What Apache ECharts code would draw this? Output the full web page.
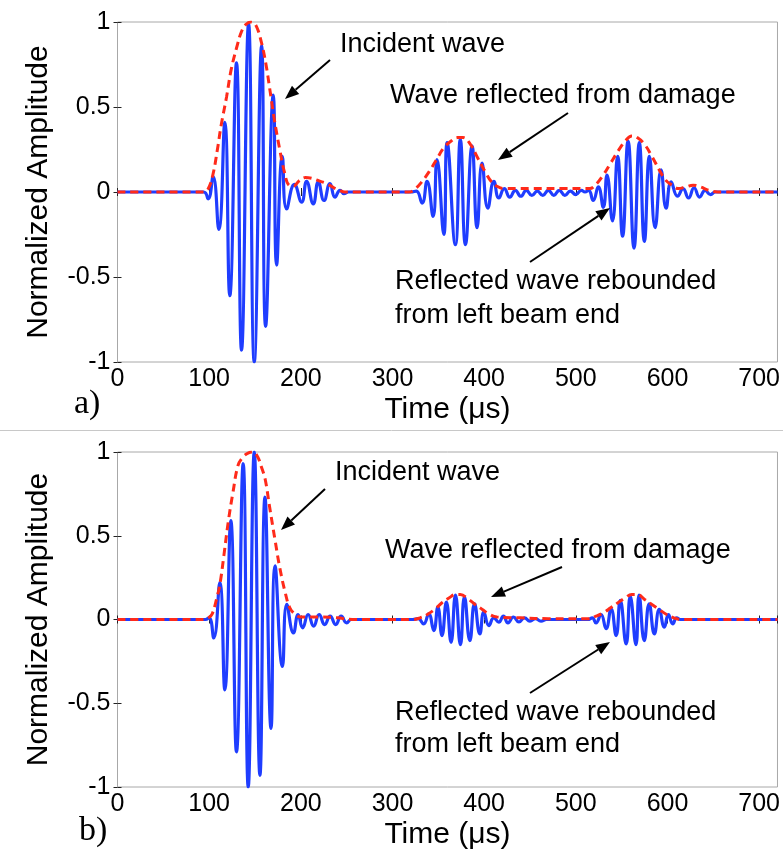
<!DOCTYPE html>
<html><head><meta charset="utf-8">
<script src="https://cdn.jsdelivr.net/npm/echarts@6/dist/echarts.min.js"></script>
<style>html,body{margin:0;padding:0;background:#fff}#c{width:783px;height:861px}</style>
</head><body><div id="c"></div>
<script>
// ---- Data: [time (us), normalized amplitude] ----
// Panel a) measured wave: extrema of each half cycle
const waveA = [
  [0,0],[94,0],[98.8,-0.04],[104.3,0.09],[110.5,-0.22],[117.1,0.41],[122.5,-0.61],[129.8,0.76],
  [135.3,-0.93],[143,0.99],[149.2,-1.0],[157.2,0.86],[161.6,-0.79],[169.9,0.57],[173.6,-0.43],
  [179.8,0.21],[184.5,-0.1],[193,0.045],[200.9,-0.06],[206.3,0.063],[213.6,-0.07],[219,0.06],
  [225.3,-0.05],[231.8,0.05],[237.3,-0.03],[242.8,0.01],[247,-0.01],[252,0],
  [320,0],[326,0.005],[332.3,-0.065],[337.7,0.063],[344.3,-0.144],[348.6,0.19],[356,-0.25],
  [359.6,0.29],[368.6,-0.31],[374,0.31],[379.6,-0.31],[386.8,0.27],[392.3,-0.21],[397.7,0.17],
  [404,-0.095],[410.6,0.063],[416,-0.035],[422,0.02],[428,-0.03],[434,0.01],[440,-0.025],
  [446,0.01],[452,-0.02],[458,0.005],[464,-0.02],[470,0.01],[476,-0.02],[482,0.01],[488,-0.02],
  [494,0.005],[500,-0.015],[506,0.01],[510,0],
  [514,0.01],[519,-0.05],[524.5,0.03],[530,-0.09],[534,0.1],[540,-0.17],[545.6,0.21],[551,-0.26],
  [557,0.3],[563.5,-0.33],[569.3,0.29],[574.8,-0.29],[580.3,0.21],[586.5,-0.21],[593,0.13],
  [598.5,-0.095],[604,0.06],[611,-0.025],[617,0.02],[623,-0.035],[629,0.025],[635,-0.03],
  [641,0.01],[647,-0.015],[652,0],[720,0]
];
// Panel a) envelope (red dashed)
const envelopeA = [
  [0,0],[94,0],[99,0.02],[104,0.1],[109,0.25],[113,0.39],[119,0.56],[124,0.72],[130,0.85],
  [135,0.94],[140,0.985],[145.5,1.0],[151,0.98],[157,0.88],[162,0.75],[166,0.61],[171,0.43],
  [177,0.25],[182,0.12],[187,0.04],[192,0.035],[198,0.065],[205,0.085],[212,0.08],[220,0.065],
  [228,0.05],[236,0.025],[242,0.01],[248,0],
  [318,0],[325,0.02],[332,0.06],[340,0.12],[348,0.19],[356,0.26],[364,0.3],[371,0.32],[377,0.32],
  [385,0.28],[393,0.2],[401,0.12],[408,0.06],[414,0.034],[422,0.02],[515,0.02],
  [522,0.045],[530,0.1],[538,0.17],[546,0.24],[554,0.3],[561,0.33],[567,0.32],[575,0.28],
  [583,0.21],[591,0.13],[598,0.07],[605,0.04],[612,0.02],[620,0.03],[628,0.04],[636,0.03],
  [645,0.01],[655,0],[720,0]
];
// Panel b) measured wave
const waveB = [
  [0,0],[96,0],[100,0.01],[105,-0.11],[111.6,0.22],[117.1,-0.42],[123.6,0.59],[129.8,-0.79],
  [137.1,0.93],[142.6,-1.0],[149.2,1.0],[155.4,-0.93],[160.9,0.73],[167.5,-0.65],[171.9,0.32],
  [179.9,-0.28],[184.7,0.09],[192,-0.08],[197,0.03],[202,-0.05],[208,0.03],[214,-0.04],[220,0.03],
  [226,-0.03],[232,0.02],[238,-0.03],[244,0.02],[250,-0.02],[255,0],
  [322,0],[328,0.005],[334,-0.026],[339.5,0.034],[345,-0.066],[349.5,0.074],[354,-0.096],
  [358.8,0.104],[363.9,-0.136],[368.7,0.145],[374.1,-0.15],[378.5,0.135],[384.4,-0.126],
  [389.5,0.094],[395.3,-0.086],[399.7,0.044],[405.2,-0.036],[410.5,0.01],[416,-0.016],
  [421,0.02],[426,-0.02],[432,0.015],[438,-0.015],[444,0.01],[450,-0.01],[456,0.005],[462,-0.01],
  [468,0],[513,0],
  [518,0.01],[522,-0.02],[527.5,0.03],[533,-0.055],[538.5,0.064],[544,-0.096],[548.5,0.114],
  [554.9,-0.146],[559.4,0.138],[565.6,-0.15],[569,0.145],[574.7,-0.126],[580,0.094],
  [585.7,-0.086],[591,0.06],[596.6,-0.046],[601,0.03],[605.8,-0.026],[610,0.01],[614,0],[720,0]
];
// Panel b) envelope (red dashed)
const envelopeB = [
  [0,0],[94,0],[99,0.01],[103,0.03],[108,0.12],[112,0.22],[116,0.38],[121,0.59],[126,0.76],
  [131.5,0.92],[137,0.97],[143,0.995],[148,1.0],[153,0.97],[157,0.91],[161,0.84],[166,0.67],
  [172,0.47],[177,0.31],[183,0.16],[188,0.07],[194,0.03],[200,0.015],[220,0.015],[240,0.01],
  [256,0],
  [322,0],[330,0.01],[338,0.03],[346,0.06],[354,0.1],[362,0.13],[369,0.15],[374,0.15],
  [382,0.125],[390,0.09],[398,0.06],[406,0.03],[414,0.015],[440,0.01],[470,0.005],[514,0.005],
  [522,0.02],[530,0.04],[538,0.07],[546,0.1],[554,0.13],[561,0.15],[567,0.15],[575,0.12],
  [583,0.09],[591,0.06],[599,0.03],[607,0.01],[615,0],[720,0]
];
const xRange = [0, 720];
const xStep = 100;
const yRange = [-1, 1];
const yStep = 0.5;
const xName = 'Time (\u03bcs)';
const yName = 'Normalized Amplitude';
const panelLabels = ['a)', 'b)'];
const annotations = {
  incident: 'Incident wave',
  damage: 'Wave reflected from damage',
  rebound1: 'Reflected wave rebounded',
  rebound2: 'from left beam end'
};

// ---- Chart ----
const FONT = "'Liberation Sans', Arial, Helvetica, sans-serif";
const SERIF = "'Liberation Serif', 'Times New Roman', serif";
const chart = echarts.init(document.getElementById('c'), null, {renderer: 'canvas'});

const grids = [
  {left: 117.5, top: 22, width: 660, height: 340},
  {left: 117.5, top: 452, width: 660, height: 335}
].map(g => Object.assign({show: true, borderColor: '#a8a8a8', borderWidth: 1, containLabel: false}, g));

const tick = {show: true, inside: true, length: 4, lineStyle: {color: '#222', width: 1}};
function xAx(gi, pos, labels) {
  return {
    type: 'value', gridIndex: gi, position: pos, min: xRange[0], max: xRange[1], interval: xStep,
    axisLine: {show: false}, axisTick: tick, splitLine: {show: false},
    axisLabel: labels ? {show: true, fontFamily: FONT, fontSize: 25, color: '#000', margin: 5,
      formatter: v => (v % xStep === 0 ? String(v) : '')} : {show: false},
    name: labels ? xName : '', nameLocation: 'middle', nameGap: 33,
    nameTextStyle: {fontFamily: FONT, fontSize: 30, color: '#000'}
  };
}
function yAx(gi, pos, labels) {
  return {
    type: 'value', gridIndex: gi, position: pos, min: yRange[0], max: yRange[1], interval: yStep,
    axisLine: {show: false}, axisTick: tick, splitLine: {show: false},
    axisLabel: labels ? {show: true, fontFamily: FONT, fontSize: 25, color: '#000', margin: 7,
      formatter: v => String(v)} : {show: false},
    name: labels ? yName : '', nameLocation: 'middle', nameGap: 64, nameRotate: 90,
    nameTextStyle: {fontFamily: FONT, fontSize: 30, color: '#000'}
  };
}

function waveSeries(data, idx) {
  return {type: 'line', xAxisIndex: idx, yAxisIndex: idx, data: data, showSymbol: false,
    smooth: 0.5, lineStyle: {color: '#1f3dff', width: 3.2}, z: 2, silent: true};
}
function envSeries(data, idx) {
  return {type: 'line', xAxisIndex: idx, yAxisIndex: idx, data: data, showSymbol: false,
    smooth: 0.4, lineStyle: {color: '#ff2a1a', width: 3, type: [8, 5]}, z: 3, silent: true};
}

function arrow(x1, y1, x2, y2) {
  const L = 14, W = 5.5;
  const a = Math.atan2(y2 - y1, x2 - x1);
  const bx = x2 - L * Math.cos(a), by = y2 - L * Math.sin(a);
  const px = -Math.sin(a) * W, py = Math.cos(a) * W;
  return [
    {type: 'line', shape: {x1: x1, y1: y1, x2: bx, y2: by}, style: {stroke: '#000', lineWidth: 2}, z: 10},
    {type: 'polygon', shape: {points: [[x2, y2], [bx + px, by + py], [bx - px, by - py]]},
      style: {fill: '#000'}, z: 10}
  ];
}
function txt(x, y, s, size, fam) {
  return {type: 'text', x: x, y: y, z: 10,
    style: {text: s, fontFamily: fam || FONT, fontSize: size || 27, fill: '#000', textVerticalAlign: 'middle'}};
}

const graphics = [
  {type: 'line', shape: {x1: 0, y1: 430.5, x2: 783, y2: 430.5}, style: {stroke: '#c8c8c8', lineWidth: 1}},
  // panel a
  txt(340, 45, annotations.incident),
  ...arrow(330, 60, 285, 99),
  txt(390, 96, annotations.damage),
  ...arrow(568, 113, 498, 160),
  txt(395, 282, annotations.rebound1),
  txt(395, 316, annotations.rebound2),
  ...arrow(530, 262, 610, 208),
  txt(74, 404, panelLabels[0], 34, SERIF),
  // panel b
  txt(335, 473, annotations.incident),
  ...arrow(325, 489, 281, 530),
  txt(385, 551, annotations.damage),
  ...arrow(562, 567, 491, 597),
  txt(395, 713, annotations.rebound1),
  txt(395, 745, annotations.rebound2),
  ...arrow(530, 693, 610, 642),
  txt(79, 831, panelLabels[1], 34, SERIF)
];

chart.setOption({
  animation: false,
  backgroundColor: '#fff',
  grid: grids,
  xAxis: [xAx(0, 'bottom', true), xAx(1, 'bottom', true), xAx(0, 'top', false), xAx(1, 'top', false)],
  yAxis: [yAx(0, 'left', true), yAx(1, 'left', true), yAx(0, 'right', false), yAx(1, 'right', false)],
  series: [waveSeries(waveA, 0), envSeries(envelopeA, 0), waveSeries(waveB, 1), envSeries(envelopeB, 1)],
  graphic: graphics
});
</script></body></html>
